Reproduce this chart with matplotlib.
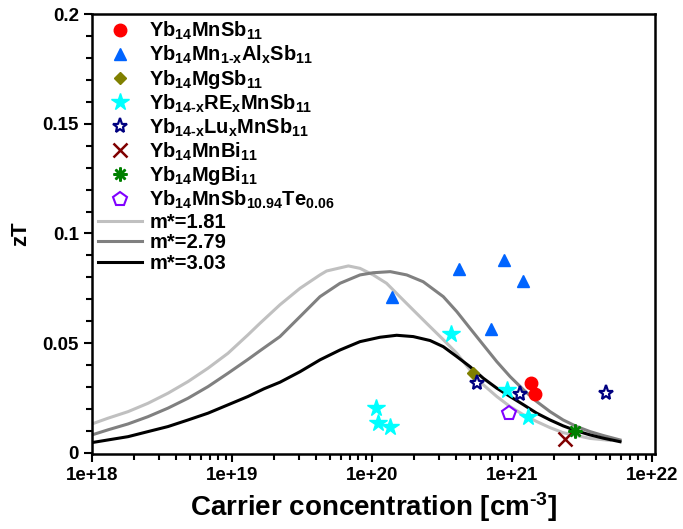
import matplotlib
matplotlib.use("Agg")
import matplotlib.pyplot as plt
from matplotlib.ticker import FuncFormatter, MultipleLocator, LogLocator

plt.rcParams['font.family'] = ['Liberation Sans', 'DejaVu Sans']
plt.rcParams['font.weight'] = 'bold'
plt.rcParams['mathtext.fontset'] = 'custom'
plt.rcParams['mathtext.rm'] = 'Liberation Sans:bold'
plt.rcParams['mathtext.bf'] = 'Liberation Sans:bold'
plt.rcParams['mathtext.it'] = 'Liberation Sans:bold'
plt.rcParams['mathtext.default'] = 'bf'

# model curves (carrier concentration in cm^-3, zT)
n_181 = [1.0e18, 1.30e18, 1.81e18, 2.51e18, 3.49e18, 4.85e18, 6.74e18, 9.36e18, 1.30e19, 1.58e19,
         2.20e19, 3.06e19, 4.25e19, 4.74e19, 6.78e19, 8.21e19, 1.02e20, 1.27e20, 1.58e20, 1.97e20,
         2.46e20, 3.23e20, 4.03e20, 5.01e20, 6.24e20, 7.78e20, 9.68e20, 1.21e21, 1.50e21, 1.87e21,
         2.32e21, 2.74e21, 3.61e21, 5.01e21]
zt_181 = [0.0132, 0.0158, 0.0188, 0.0226, 0.0272, 0.0325, 0.0386, 0.0454, 0.0538, 0.0590,
          0.0675, 0.0750, 0.0811, 0.0829, 0.0852, 0.0841, 0.0811, 0.0773, 0.0712, 0.0651,
          0.0590, 0.0516, 0.0454, 0.0378, 0.0310, 0.0257, 0.0211, 0.0173, 0.0143, 0.0115,
          0.0092, 0.0082, 0.0066, 0.0057]

n_279 = [1.0e18, 1.30e18, 1.81e18, 2.51e18, 3.49e18, 4.85e18, 6.74e18, 9.36e18, 1.30e19, 1.58e19,
         2.20e19, 3.06e19, 4.25e19, 5.91e19, 8.21e19, 1.02e20, 1.35e20, 1.77e20, 2.32e20, 3.23e20,
         4.03e20, 5.01e20, 6.24e20, 7.78e20, 9.68e20, 1.21e21, 1.50e21, 1.87e21, 2.32e21, 2.90e21,
         3.61e21, 4.49e21, 5.91e21]
zt_279 = [0.0082, 0.0105, 0.0132, 0.0165, 0.0204, 0.0249, 0.0302, 0.0363, 0.0426, 0.0465,
          0.0530, 0.0621, 0.0712, 0.0773, 0.0811, 0.0821, 0.0826, 0.0811, 0.0780, 0.0712,
          0.0644, 0.0568, 0.0492, 0.0416, 0.0348, 0.0287, 0.0234, 0.0188, 0.0150, 0.0120,
          0.0097, 0.0079, 0.0059]

n_303 = [1.0e18, 1.30e18, 1.81e18, 2.51e18, 3.49e18, 4.85e18, 6.74e18, 9.36e18, 1.30e19, 1.69e19,
         2.20e19, 3.06e19, 4.25e19, 5.91e19, 8.21e19, 1.14e20, 1.50e20, 1.97e20, 2.60e20, 3.23e20,
         4.03e20, 5.01e20, 6.24e20, 7.78e20, 9.68e20, 1.21e21, 1.50e21, 1.87e21, 2.32e21, 2.90e21,
         3.61e21, 4.49e21, 5.91e21]
zt_303 = [0.0047, 0.0059, 0.0074, 0.0097, 0.0120, 0.0150, 0.0181, 0.0219, 0.0257, 0.0292,
          0.0322, 0.0370, 0.0424, 0.0469, 0.0507, 0.0527, 0.0536, 0.0530, 0.0512, 0.0484,
          0.0439, 0.0393, 0.0340, 0.0295, 0.0257, 0.0219, 0.0181, 0.0150, 0.0123, 0.0100,
          0.0082, 0.0067, 0.0051]

# experimental points
n_mnsb = [1.36e21, 1.47e21]
zt_mnsb = [0.0318, 0.0269]
n_al = [1.38e20, 4.21e20, 8.77e20, 1.19e21, 7.05e20]
zt_al = [0.0712, 0.0838, 0.0879, 0.0785, 0.0563]
n_mgsb = [5.3e20]
zt_mgsb = [0.0363]
n_re = [3.65e20, 9.16e20, 1.31e21, 1.07e20, 1.11e20, 1.35e20]
zt_re = [0.054, 0.0287, 0.0163, 0.0204, 0.0138, 0.012]
n_lu = [5.63e20, 1.14e21, 4.69e21]
zt_lu = [0.0318, 0.0269, 0.0272]
n_mnbi = [2.4e21]
zt_mnbi = [0.0062]
n_mgbi = [2.82e21]
zt_mgbi = [0.0102]
n_te = [9.57e20]
zt_te = [0.0184]

fig = plt.figure(figsize=(6.83, 5.29), dpi=100)
ax = fig.add_axes([0.1347, 0.1418, 0.8243, 0.8317])

ax.plot(n_mnsb, zt_mnsb, 'o', color='#ff0000', ms=9, label=r'Yb$_{14}$MnSb$_{11}$')
ax.plot(n_al, zt_al, '^', color='#0064ff', ms=9, label=r'Yb$_{14}$Mn$_{1\text{-}x}$Al$_x$Sb$_{11}$')
ax.plot(n_mgsb, zt_mgsb, 'D', color='#808000', ms=6, label=r'Yb$_{14}$MgSb$_{11}$')
ax.plot(n_re, zt_re, '*', color='#00ffff', ms=13, label=r'Yb$_{14\text{-}x}$RE$_x$MnSb$_{11}$')
ax.plot(n_lu, zt_lu, '*', color='#000080', mfc='white', mew=1.6, ms=11,
        label=r'Yb$_{14\text{-}x}$Lu$_x$MnSb$_{11}$')
ax.plot(n_mnbi, zt_mnbi, 'x', color='#800000', mew=1.8, ms=10, label=r'Yb$_{14}$MnBi$_{11}$')
ax.plot(n_mgbi, zt_mgbi, marker=(8, 2, 0), ls='none', color='#008000', mew=1.8, ms=10,
        label=r'Yb$_{14}$MgBi$_{11}$')
ax.plot(n_te, zt_te, 'p', color='#8000ff', mfc='white', mew=1.5, ms=10,
        label=r'Yb$_{14}$MnSb$_{10.94}$Te$_{0.06}$')
ax.plot(n_181, zt_181, color='#c0c0c0', lw=2.2, label='m*=1.81', zorder=1, solid_joinstyle='round')
ax.plot(n_279, zt_279, color='#808080', lw=2.2, label='m*=2.79', zorder=1, solid_joinstyle='round')
ax.plot(n_303, zt_303, color='black', lw=2.2, label='m*=3.03', zorder=1, solid_joinstyle='round')

ax.set_xscale('log')
ax.set_xlim(1e18, 1.05e22)
ax.set_ylim(-0.0005, 0.2)
ax.xaxis.set_major_locator(LogLocator(base=10, numticks=10))
ax.xaxis.set_minor_locator(LogLocator(base=10, subs=range(2, 10), numticks=50))
ax.xaxis.set_major_formatter(FuncFormatter(lambda v, p: '%.0e' % v))
ax.yaxis.set_major_locator(MultipleLocator(0.05))
ax.yaxis.set_minor_locator(MultipleLocator(0.01))
ax.yaxis.set_major_formatter(FuncFormatter(lambda v, p: '%g' % round(v, 3)))

ax.tick_params(which='both', direction='out', width=1.5, labelsize=13.5)
ax.tick_params(which='major', length=6)
ax.tick_params(which='minor', length=4)
for s in ax.spines.values():
    s.set_linewidth(1.8)

ax.set_xlabel(r'Carrier concentration [cm$^{\text{-}3}$]', fontsize=20, fontweight='bold')
ax.set_ylabel('zT', fontsize=16, fontweight='bold', labelpad=8)

ax.legend(loc='upper left', frameon=False, fontsize=14.5, labelspacing=0.08,
          handlelength=2.2, handletextpad=0.35, borderaxespad=0.1, borderpad=0.2)

fig.savefig('out.png', dpi=100)
